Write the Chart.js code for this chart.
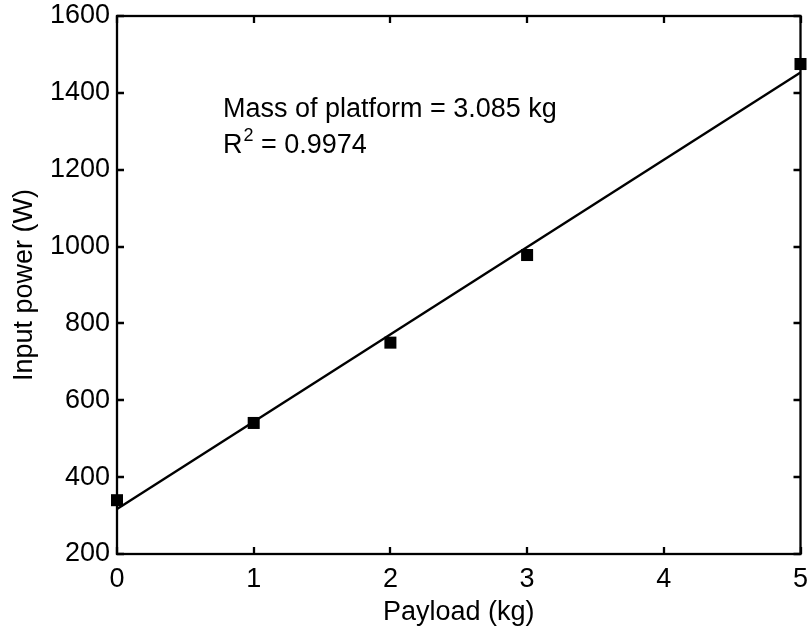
<!DOCTYPE html>
<html>
<head>
<meta charset="utf-8">
<script src="https://cdn.jsdelivr.net/npm/chart.js@4.4.0/dist/chart.umd.min.js"></script>
<style>
  html, body { margin: 0; padding: 0; background: #fff; }
  #wrap { width: 809px; height: 629px; }
</style>
</head>
<body>
<div id="wrap"><canvas id="c" width="809" height="629"></canvas></div>
<script>
// Data
const payloadKg = [0, 1, 2, 3, 5];
const inputPowerW = [340, 541, 750, 978, 1475];
const fitX = [0, 5];
const fitY = [317, 1453];
const xTicks = [0, 1, 2, 3, 4, 5];
const yTicks = [200, 400, 600, 800, 1000, 1200, 1400, 1600];
const annotationLine1 = 'Mass of platform = 3.085 kg';
const annotationR2 = '0.9974';
const annotationAnchor = { x: 0.775, y1: 1337, y2: 1243 };

const FONT = 'Liberation Sans, Arial, Helvetica, sans-serif';
const FS = 27;

const boxPlugin = {
  id: 'boxPlugin',
  afterDatasetsDraw(chart) {
    const { ctx, chartArea: a, scales } = chart;
    const xs = scales.x, ys = scales.y;
    ctx.save();
    ctx.strokeStyle = '#000';
    ctx.lineWidth = 2.3;
    ctx.strokeRect(a.left, a.top, a.right - a.left, a.bottom - a.top);
    const tl = 7;
    ctx.beginPath();
    xTicks.forEach(v => {
      const px = Math.round(xs.getPixelForValue(v));
      ctx.moveTo(px, a.bottom); ctx.lineTo(px, a.bottom - tl);
      ctx.moveTo(px, a.top); ctx.lineTo(px, a.top + tl);
    });
    yTicks.forEach(v => {
      const py = Math.round(ys.getPixelForValue(v));
      ctx.moveTo(a.left, py); ctx.lineTo(a.left + tl, py);
      ctx.moveTo(a.right, py); ctx.lineTo(a.right - tl, py);
    });
    ctx.stroke();

    // annotation text
    ctx.fillStyle = '#000';
    ctx.textBaseline = 'alphabetic';
    ctx.textAlign = 'left';
    const ax = xs.getPixelForValue(annotationAnchor.x);
    const ay1 = ys.getPixelForValue(annotationAnchor.y1);
    const ay2 = ys.getPixelForValue(annotationAnchor.y2);
    ctx.font = FS + 'px ' + FONT;
    ctx.fillText(annotationLine1, ax, ay1);
    ctx.fillText('R', ax, ay2);
    const rw = ctx.measureText('R').width;
    ctx.font = '18px ' + FONT;
    ctx.fillText('2', ax + rw + 1, ay2 - 12);
    const sw = ctx.measureText('2').width;
    ctx.font = FS + 'px ' + FONT;
    ctx.fillText(' = ' + annotationR2, ax + rw + 1 + sw, ay2);
    ctx.restore();
  }
};

new Chart(document.getElementById('c'), {
  type: 'scatter',
  data: {
    datasets: [
      {
        label: 'Fit',
        data: fitX.map((x, i) => ({ x, y: fitY[i] })),
        showLine: true,
        borderColor: '#000',
        borderWidth: 2.4,
        pointRadius: 0,
        fill: false,
        clip: false,
        order: 2
      },
      {
        label: 'Measured',
        data: payloadKg.map((x, i) => ({ x, y: inputPowerW[i] })),
        showLine: false,
        pointStyle: 'rect',
        pointRadius: 8.5,
        pointBackgroundColor: '#000',
        pointBorderColor: '#000',
        pointBorderWidth: 0,
        clip: false,
        order: 1
      }
    ]
  },
  options: {
    responsive: false,
    animation: false,
    devicePixelRatio: 1,
    layout: { padding: { top: 16, right: 8, left: 0, bottom: 0 } },
    plugins: { legend: { display: false }, tooltip: { enabled: false } },
    scales: {
      x: {
        type: 'linear', min: 0, max: 5,
        afterBuildTicks: s => { s.ticks = xTicks.map(v => ({ value: v })); },
        afterFit: s => { s.height = 75; s.paddingLeft = 0; s.paddingRight = 0; },
        grid: { display: false, drawTicks: false },
        border: { display: false },
        ticks: { color: '#000', font: { family: FONT, size: FS }, padding: 9, maxRotation: 0,
                 callback: v => String(v) },
        title: { display: true, text: 'Payload (kg)', color: '#000', font: { family: FONT, size: FS }, padding: { top: 0, bottom: 0 } }
      },
      y: {
        type: 'linear', min: 200, max: 1600,
        afterBuildTicks: s => { s.ticks = yTicks.map(v => ({ value: v })); },
        afterFit: s => { s.width = 117; s.paddingTop = 0; s.paddingBottom = 0; },
        grid: { display: false, drawTicks: false },
        border: { display: false },
        ticks: { color: '#000', font: { family: FONT, size: FS }, padding: 7,
                 callback: v => String(v) },
        title: { display: true, text: 'Input power (W)', color: '#000', font: { family: FONT, size: FS }, padding: { top: 8, bottom: 0 } }
      }
    }
  },
  plugins: [boxPlugin]
});
</script>
</body>
</html>
